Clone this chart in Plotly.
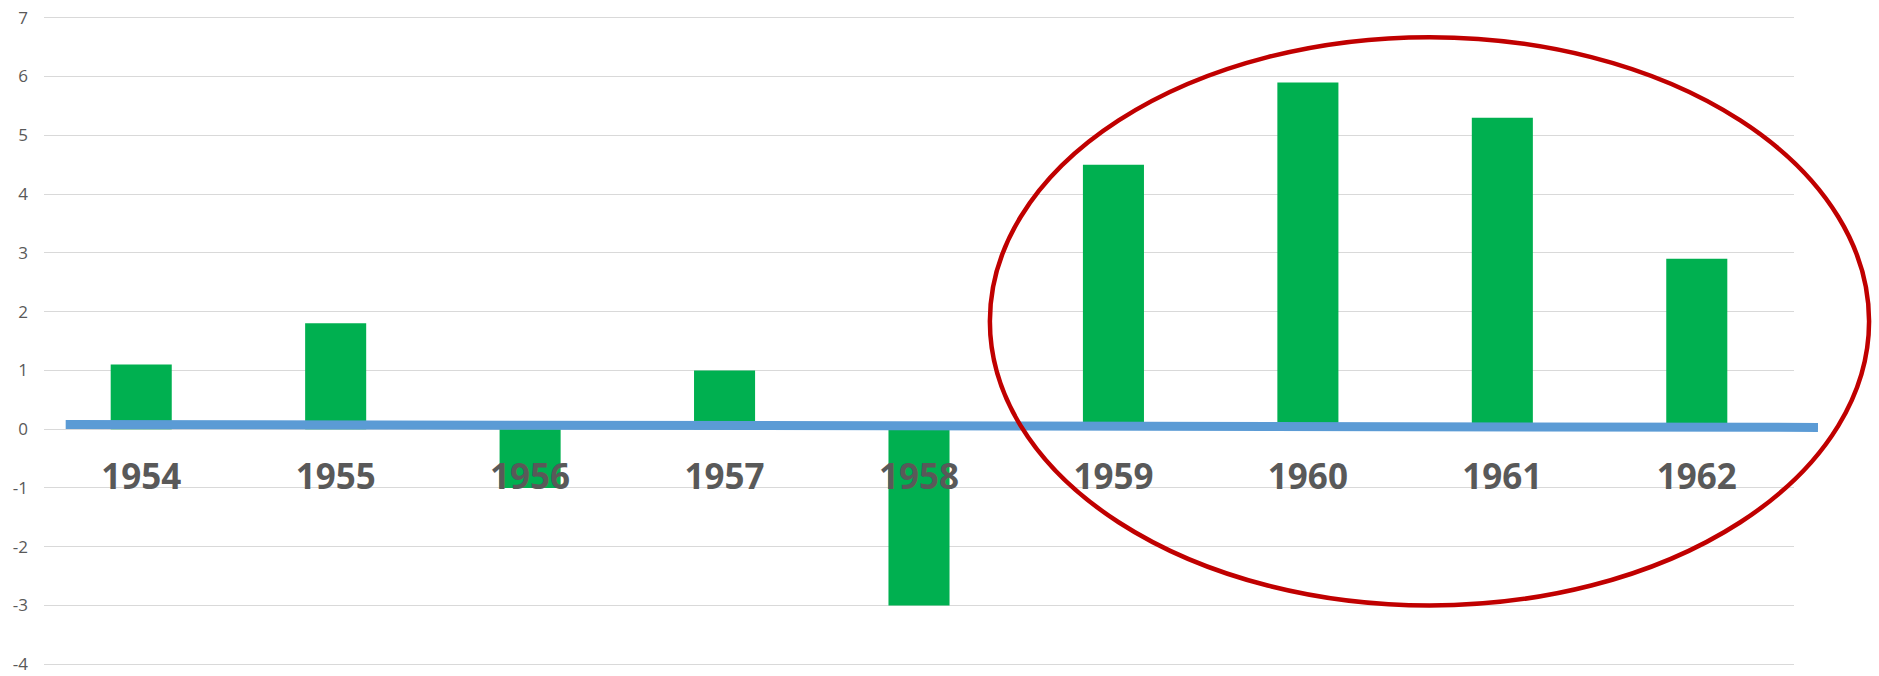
import plotly.graph_objects as go

years = ["1954", "1955", "1956", "1957", "1958", "1959", "1960", "1961", "1962"]
values = [1.1, 1.8, -1.0, 1.0, -3.0, 4.5, 5.9, 5.3, 2.9]
label_y = [-0.87] * len(years)
y_ticks = list(range(-4, 8))
y_tick_text = [str(v) for v in y_ticks]
y_min, y_max = -4.03, 7.03

W, H = 1879, 676
fig = go.Figure()
fig.add_trace(go.Bar(x=years, y=values, marker=dict(color="#00B050", line=dict(width=0)),
                     width=0.314, showlegend=False))
fig.add_trace(go.Scatter(x=years, y=label_y, mode="text", text=years,
                         textfont=dict(family="Open Sans", size=35, color="#595959", weight="bold"),
                         showlegend=False, cliponaxis=False))

def yp(v):
    return (v - y_min) / (y_max - y_min)

shapes = [
    dict(type="line", xref="paper", yref="paper", x0=0.0124, x1=1.0137,
         y0=yp(0.08), y1=yp(0.03), line=dict(color="#5B9BD5", width=9), layer="above"),
    dict(type="circle", xref="paper", yref="paper", x0=0.5405, x1=1.0429,
         y0=yp(-3.0), y1=yp(6.67), line=dict(color="#C00000", width=4.5), layer="above"),
]

fig.update_layout(
    width=W, height=H,
    margin=dict(l=44, r=85, t=16, b=10),
    plot_bgcolor="white", paper_bgcolor="white",
    shapes=shapes,
    bargap=0.686,
    xaxis=dict(showticklabels=False, showgrid=False, zeroline=False, showline=False,
               range=[-0.5, 8.5], automargin=False),
    yaxis=dict(range=[y_min, y_max], tickvals=y_ticks, ticktext=y_tick_text,
               showgrid=True, gridcolor="#D9D9D9",
               gridwidth=1.3, zeroline=False, showline=False, automargin=False,
               tickfont=dict(family="Open Sans", size=17, color="#595959"),
               ticklabelstandoff=15),
)
fig.write_html("out.html", config={"displayModeBar": False},
               post_script="document.body.style.margin='0px';")
